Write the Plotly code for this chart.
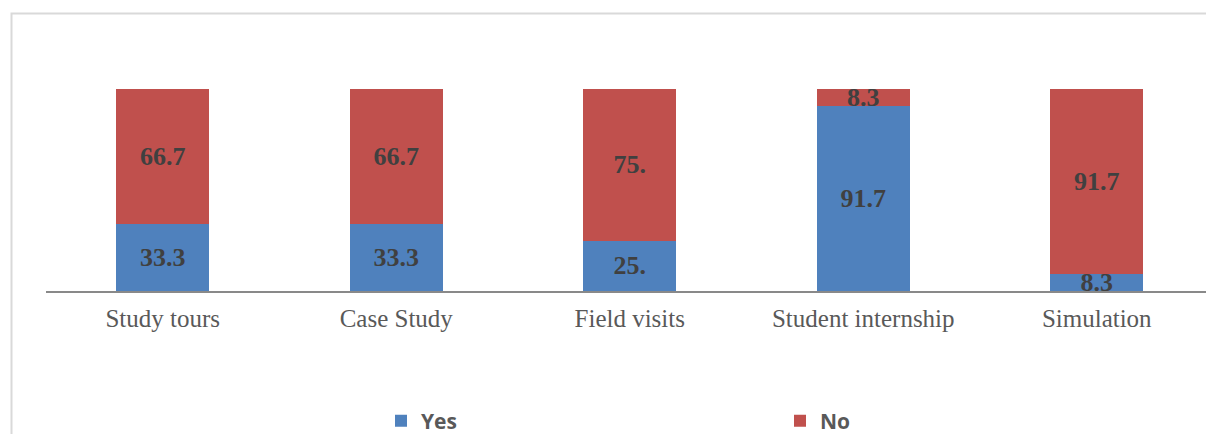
import plotly.graph_objects as go

categories = ["Study tours", "Case Study", "Field visits", "Student internship", "Simulation"]
yes_values = [33.3, 33.3, 25.0, 91.7, 8.3]
no_values = [66.7, 66.7, 75.0, 8.3, 91.7]
yes_labels = ["33.3", "33.3", "25.", "91.7", "8.3"]
no_labels = ["66.7", "66.7", "75.", "8.3", "91.7"]

# the page body margin is removed by post_script, so the figure sits at (0, 0)
OFF = 0
W, H = 1206 - OFF, 434 - OFF
L = 46 - OFF
T = 89 - OFF
B = H - (291 - OFF)
plot_w = W - L
plot_h = H - T - B
band = 233.5

label_font = dict(family="Liberation Serif", size=26, color="#404040", weight="bold")

fig = go.Figure()
fig.add_trace(go.Bar(
    name="Yes", x=categories, y=yes_values, text=yes_labels,
    textposition="inside", insidetextanchor="middle", textangle=0,
    constraintext="none", textfont=label_font,
    marker=dict(color="#4f81bd", line=dict(width=0)), width=0.4,
))
fig.add_trace(go.Bar(
    name="No", x=categories, y=no_values, text=no_labels,
    textposition="inside", insidetextanchor="middle", textangle=0,
    constraintext="none", textfont=label_font,
    marker=dict(color="#c0504d", line=dict(width=0)), width=0.4,
))

def px_x(p):
    # p: window pixel x
    return (p - OFF - L) / plot_w

def px_y(p):
    # p: window pixel y
    return (H - B - (p - OFF)) / plot_h

fig.update_layout(
    barmode="stack",
    width=W, height=H,
    margin=dict(l=L, r=0, t=T, b=B, pad=0, autoexpand=False),
    paper_bgcolor="white", plot_bgcolor="white",
    uniformtext=dict(minsize=26, mode="show"),
    showlegend=True,
    legend=dict(
        orientation="h", xref="container", yref="container",
        x=(381 - OFF) / W, y=(H - (421 - OFF)) / H, xanchor="left", yanchor="middle",
        entrywidth=354, entrywidthmode="pixels",
        font=dict(family="Open Sans", size=21, color="#595959", weight="bold"),
        bgcolor="rgba(0,0,0,0)", itemclick=False, itemdoubleclick=False,
        traceorder="normal",
    ),
    xaxis=dict(
        range=[-0.5, -0.5 + plot_w / band], automargin=False,
        showline=True, linecolor="#898989", linewidth=2,
        ticks="", showgrid=False, zeroline=False,
        tickfont=dict(family="Liberation Serif", size=25, color="#595959"),
        ticklabelstandoff=4,
    ),
    yaxis=dict(range=[0, 100], visible=False, showgrid=False, zeroline=False, automargin=False),
    shapes=[dict(
        type="rect", xref="paper", yref="paper",
        x0=px_x(11.5), x1=px_x(1400), y0=px_y(600), y1=px_y(13.5),
        line=dict(color="#d9d9d9", width=2), fillcolor="rgba(0,0,0,0)", layer="below",
    )],
)

fig.write_html(
    "out.html",
    config={"displayModeBar": False},
    post_script=(
        "document.body.style.margin='0';"
        "document.documentElement.style.overflow='hidden';"
        "document.body.style.overflow='hidden';"
    ),
)
